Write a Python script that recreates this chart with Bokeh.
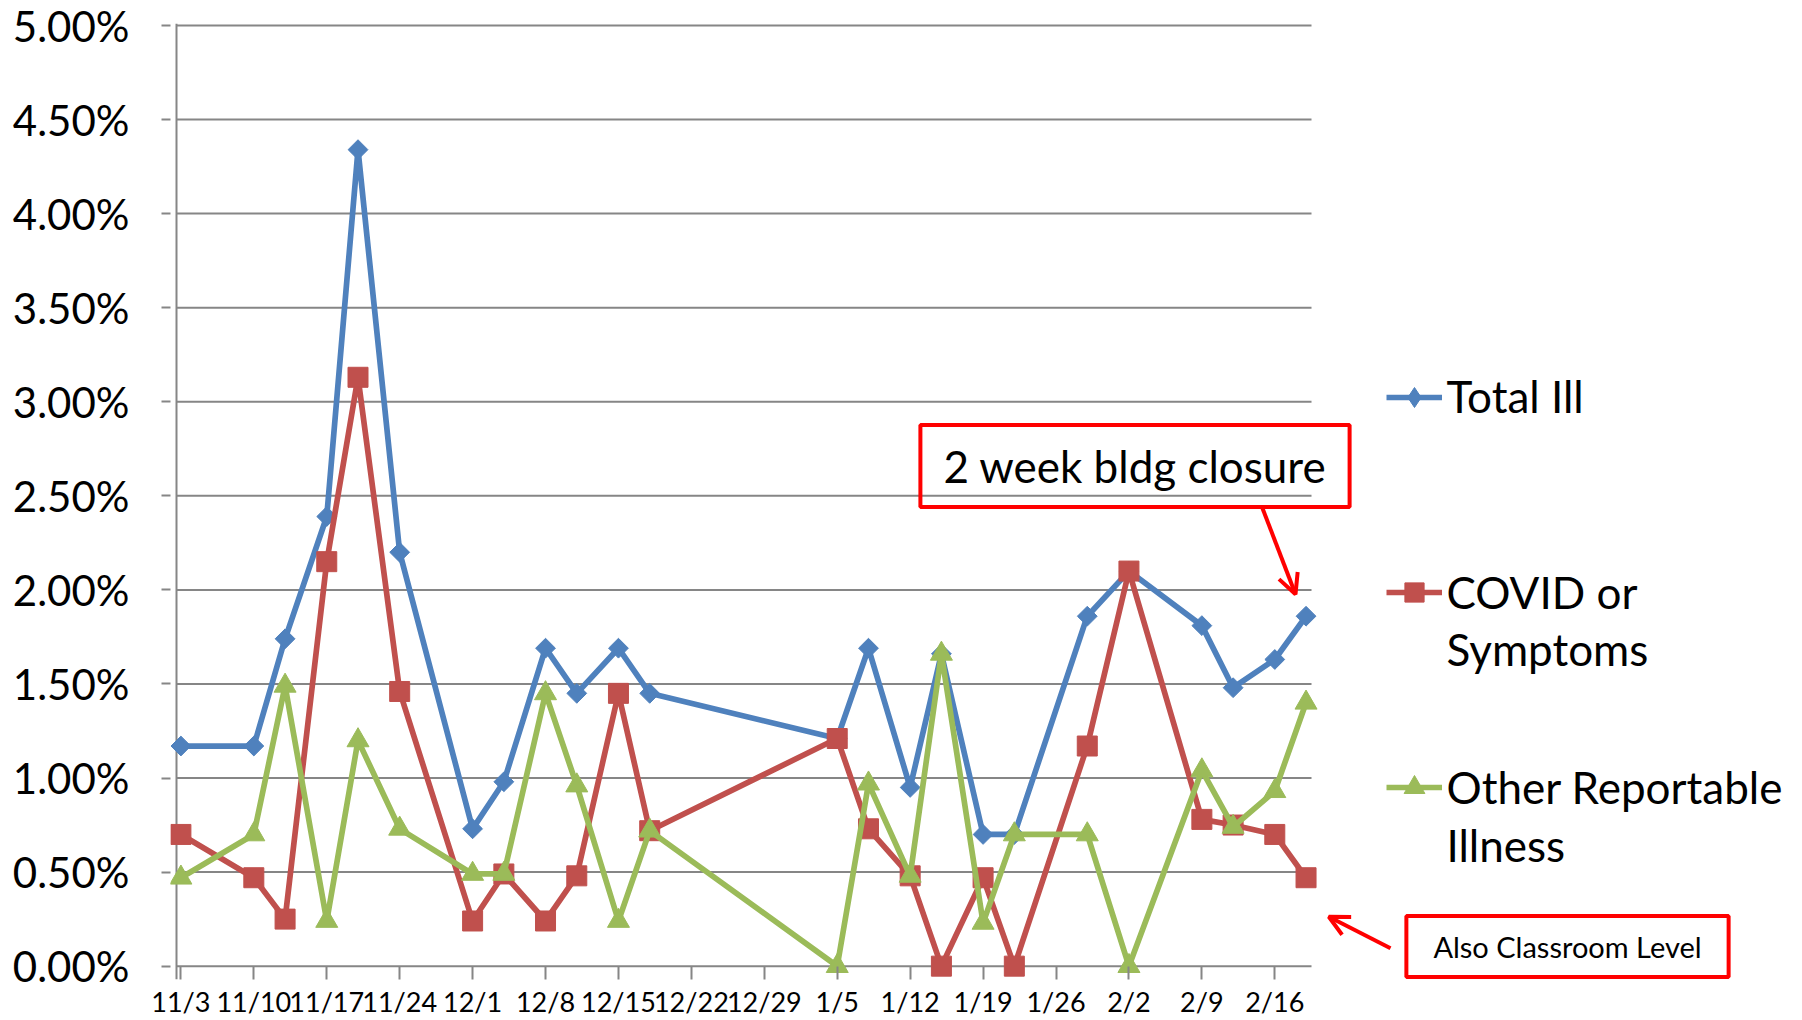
import pandas as pd
from bokeh.plotting import figure
from bokeh.models import (Range1d, FixedTicker, NumeralTickFormatter, Legend, LegendItem,
                          Label, Arrow, OpenHead, ColumnDataSource)
from bokeh.core.properties import value
from bokeh.embed import file_html
from bokeh.resources import INLINE

# ---------------- data (percent of students) ----------------
dates = ["2020-11-03", "2020-11-10", "2020-11-13", "2020-11-17", "2020-11-20", "2020-11-24",
         "2020-12-01", "2020-12-04", "2020-12-08", "2020-12-11", "2020-12-15", "2020-12-18",
         "2021-01-05", "2021-01-08", "2021-01-12", "2021-01-15", "2021-01-19", "2021-01-22",
         "2021-01-29", "2021-02-02", "2021-02-09", "2021-02-12", "2021-02-16", "2021-02-19"]
total_ill = [1.17, 1.17, 1.74, 2.39, 4.34, 2.20, 0.73, 0.98, 1.69, 1.45, 1.69, 1.45,
             1.21, 1.69, 0.95, 1.66, 0.70, 0.70, 1.86, 2.10, 1.81, 1.48, 1.63, 1.86]
covid = [0.70, 0.47, 0.25, 2.15, 3.13, 1.46, 0.24, 0.49, 0.24, 0.48, 1.45, 0.72,
         1.21, 0.73, 0.48, 0.00, 0.47, 0.00, 1.17, 2.10, 0.78, 0.75, 0.70, 0.47]
other = [0.47, 0.70, 1.49, 0.24, 1.20, 0.73, 0.49, 0.49, 1.45, 0.96, 0.24, 0.72,
         0.00, 0.97, 0.48, 1.66, 0.23, 0.70, 0.70, 0.00, 1.04, 0.74, 0.93, 1.40]

tick_dates = ["2020-11-03", "2020-11-10", "2020-11-17", "2020-11-24", "2020-12-01", "2020-12-08",
              "2020-12-15", "2020-12-22", "2020-12-29", "2021-01-05", "2021-01-12", "2021-01-19",
              "2021-01-26", "2021-02-02", "2021-02-09", "2021-02-16"]
tick_labels = ["11/3", "11/10", "11/17", "11/24", "12/1", "12/8", "12/15", "12/22", "12/29",
               "1/5", "1/12", "1/19", "1/26", "2/2", "2/9", "2/16"]
y_ticks = [0.0, 0.005, 0.01, 0.015, 0.02, 0.025, 0.03, 0.035, 0.04, 0.045, 0.05]

legend_text = [["Total Ill"], ["COVID or", "Symptoms"], ["Other Reportable", "Illness"]]

# ---------------- derived ----------------
start = pd.Timestamp(dates[0])
days = [(pd.Timestamp(d) - start).days for d in dates]
tick_days = [(pd.Timestamp(d) - start).days for d in tick_dates]

src = ColumnDataSource(dict(
    x=days,
    total=[v / 100 for v in total_ill],
    covid=[v / 100 for v in covid],
    other=[v / 100 for v in other],
))

# ---------------- layout ----------------
W, H = 1802, 1020
FL, FR, FT, FB = 170, 1802, 23, 982          # frame edges (px)
PX_DAY = 10.418                              # px per day
X0PX = 180.4                                 # px of first date
Y0PX, Y5PX = 968.6, 25.0                     # px of 0% and 5%
PX_UNIT = (Y0PX - Y5PX) / 0.05

x_start = -(X0PX - FL) / PX_DAY
x_end = x_start + (FR - FL) / PX_DAY
y_start = -(FB - Y0PX) / PX_UNIT
y_end = 0.05 + (Y5PX - FT) / PX_UNIT
AXIS_X = (175.7 - X0PX) / PX_DAY             # where the value axis sits
GRID_END = (1311.0 - X0PX) / PX_DAY          # right end of the plot area

BLUE, RED, GREEN = "#4F81BD", "#C0504D", "#9BBB59"
GRID = "#868686"
ANN = "#FF0000"
FONT = "Lato"


def sx(cx):
    return cx - FL


def sy(cy):
    return FB - cy


p = figure(width=W, height=H, x_range=Range1d(x_start, x_end), y_range=Range1d(y_start, y_end),
           output_backend="svg", toolbar_location=None,
           min_border_left=FL, min_border_right=W - FR, min_border_top=FT, min_border_bottom=H - FB,
           background_fill_color="white", border_fill_color="white")
p.outline_line_color = None

# horizontal gridlines limited to the plot area
p.ygrid.grid_line_color = None
p.segment(x0=[AXIS_X] * len(y_ticks), x1=[GRID_END] * len(y_ticks), y0=y_ticks, y1=y_ticks,
          line_color=GRID, line_width=2)
# vertical value-axis line
p.xgrid.ticker = FixedTicker(ticks=[AXIS_X])
p.xgrid.grid_line_color = GRID
p.xgrid.grid_line_width = 2

# y axis
p.yaxis.ticker = FixedTicker(ticks=y_ticks)
p.yaxis.formatter = NumeralTickFormatter(format="0.00%")
p.yaxis.axis_line_color = None
p.yaxis.major_tick_line_color = GRID
p.yaxis.major_tick_line_width = 2
p.yaxis.major_tick_out = 9
p.yaxis.major_tick_in = 0
p.yaxis.minor_tick_line_color = None
p.yaxis.major_label_standoff = 32
p.yaxis.major_label_text_font = FONT
p.yaxis.major_label_text_font_size = "42px"
p.yaxis.major_label_text_color = "black"

# x axis
p.xaxis.ticker = FixedTicker(ticks=tick_days)
p.xaxis.major_label_overrides = {d: l for d, l in zip(tick_days, tick_labels)}
p.xaxis.axis_line_color = None
p.xaxis.major_tick_line_color = GRID
p.xaxis.major_tick_line_width = 2
p.xaxis.major_tick_in = 13
p.xaxis.major_tick_out = 0
p.xaxis.minor_tick_line_color = None
p.xaxis.major_label_standoff = 5
p.xaxis.major_label_text_font = FONT
p.xaxis.major_label_text_font_size = "27px"
p.xaxis.major_label_text_color = "black"

# series
LW = 5.7
l1 = p.line("x", "total", source=src, line_color=BLUE, line_width=LW)
m1 = p.scatter("x", "total", source=src, marker="square", size=14, angle=0.785398,
               fill_color=BLUE, line_color=BLUE)
l2 = p.line("x", "covid", source=src, line_color=RED, line_width=LW)
m2 = p.scatter("x", "covid", source=src, marker="square", size=20, fill_color=RED, line_color=RED)
l3 = p.line("x", "other", source=src, line_color=GREEN, line_width=LW)
m3 = p.scatter("x", "other", source=src, marker="triangle", size=22, fill_color=GREEN,
               line_color=GREEN)
# diamond-shaped sample used only by the legend
m1_key = p.scatter("x", "total", source=src, marker="diamond", size=20,
                   fill_color=BLUE, line_color=BLUE, visible=False)

# legend glyph samples (one legend per entry; the entry texts are drawn as labels)
LEG_X0 = 1386
leg_specs = [([l1, m1_key], 400, 50), ([l2, m2], 594.5, 48), ([l3, m3], 790, 52)]
for rends, cy, gh in leg_specs:
    leg = Legend(items=[LegendItem(label=value(" "), renderers=rends)],
                 location=(sx(LEG_X0), sy(cy) - gh / 2),
                 glyph_width=56, glyph_height=gh, label_height=gh,
                 label_width=1, label_standoff=0, padding=0, margin=0, spacing=0,
                 border_line_alpha=0, background_fill_alpha=0,
                 inactive_fill_alpha=0,
                 label_text_font_size="2px")
    p.add_layout(leg)

centers = [[398], [594, 651.5], [789, 847.5]]
for lines, cys in zip(legend_text, centers):
    for txt, cy in zip(lines, cys):
        p.add_layout(Label(x=sx(1446), y=sy(cy), x_units="screen", y_units="screen", text=txt,
                           text_font=FONT, text_font_size="44px", text_color="black",
                           text_align="left", text_baseline="middle"))

# annotations
p.add_layout(Label(x=sx(1134.5), y=sy(468.5), x_units="screen", y_units="screen",
                   text="2 week bldg closure", text_font=FONT, text_font_size="44px",
                   text_color="black", text_align="center", text_baseline="middle",
                   border_line_color=ANN, border_line_width=4,
                   padding=dict(left=23, right=23, top=15, bottom=15)))
p.add_layout(Label(x=sx(1567), y=sy(949), x_units="screen", y_units="screen",
                   text="Also Classroom Level", text_font=FONT, text_font_size="29px",
                   text_color="black", text_align="center", text_baseline="middle",
                   border_line_color=ANN, border_line_width=4,
                   padding=dict(left=27, right=27, top=13, bottom=13)))

p.add_layout(Arrow(x_start=sx(1261.7), y_start=sy(510), x_end=sx(1295), y_end=sy(596.7),
                   start_units="screen", end_units="screen", line_color=ANN, line_width=4,
                   end=OpenHead(size=20, line_color=ANN, line_width=4)))
p.add_layout(Arrow(x_start=sx(1390), y_start=sy(950.7), x_end=sx(1328.3), y_end=sy(919.3),
                   start_units="screen", end_units="screen", line_color=ANN, line_width=4,
                   end=OpenHead(size=20, line_color=ANN, line_width=4)))

open("out.html", "w").write(file_html(p, INLINE))
